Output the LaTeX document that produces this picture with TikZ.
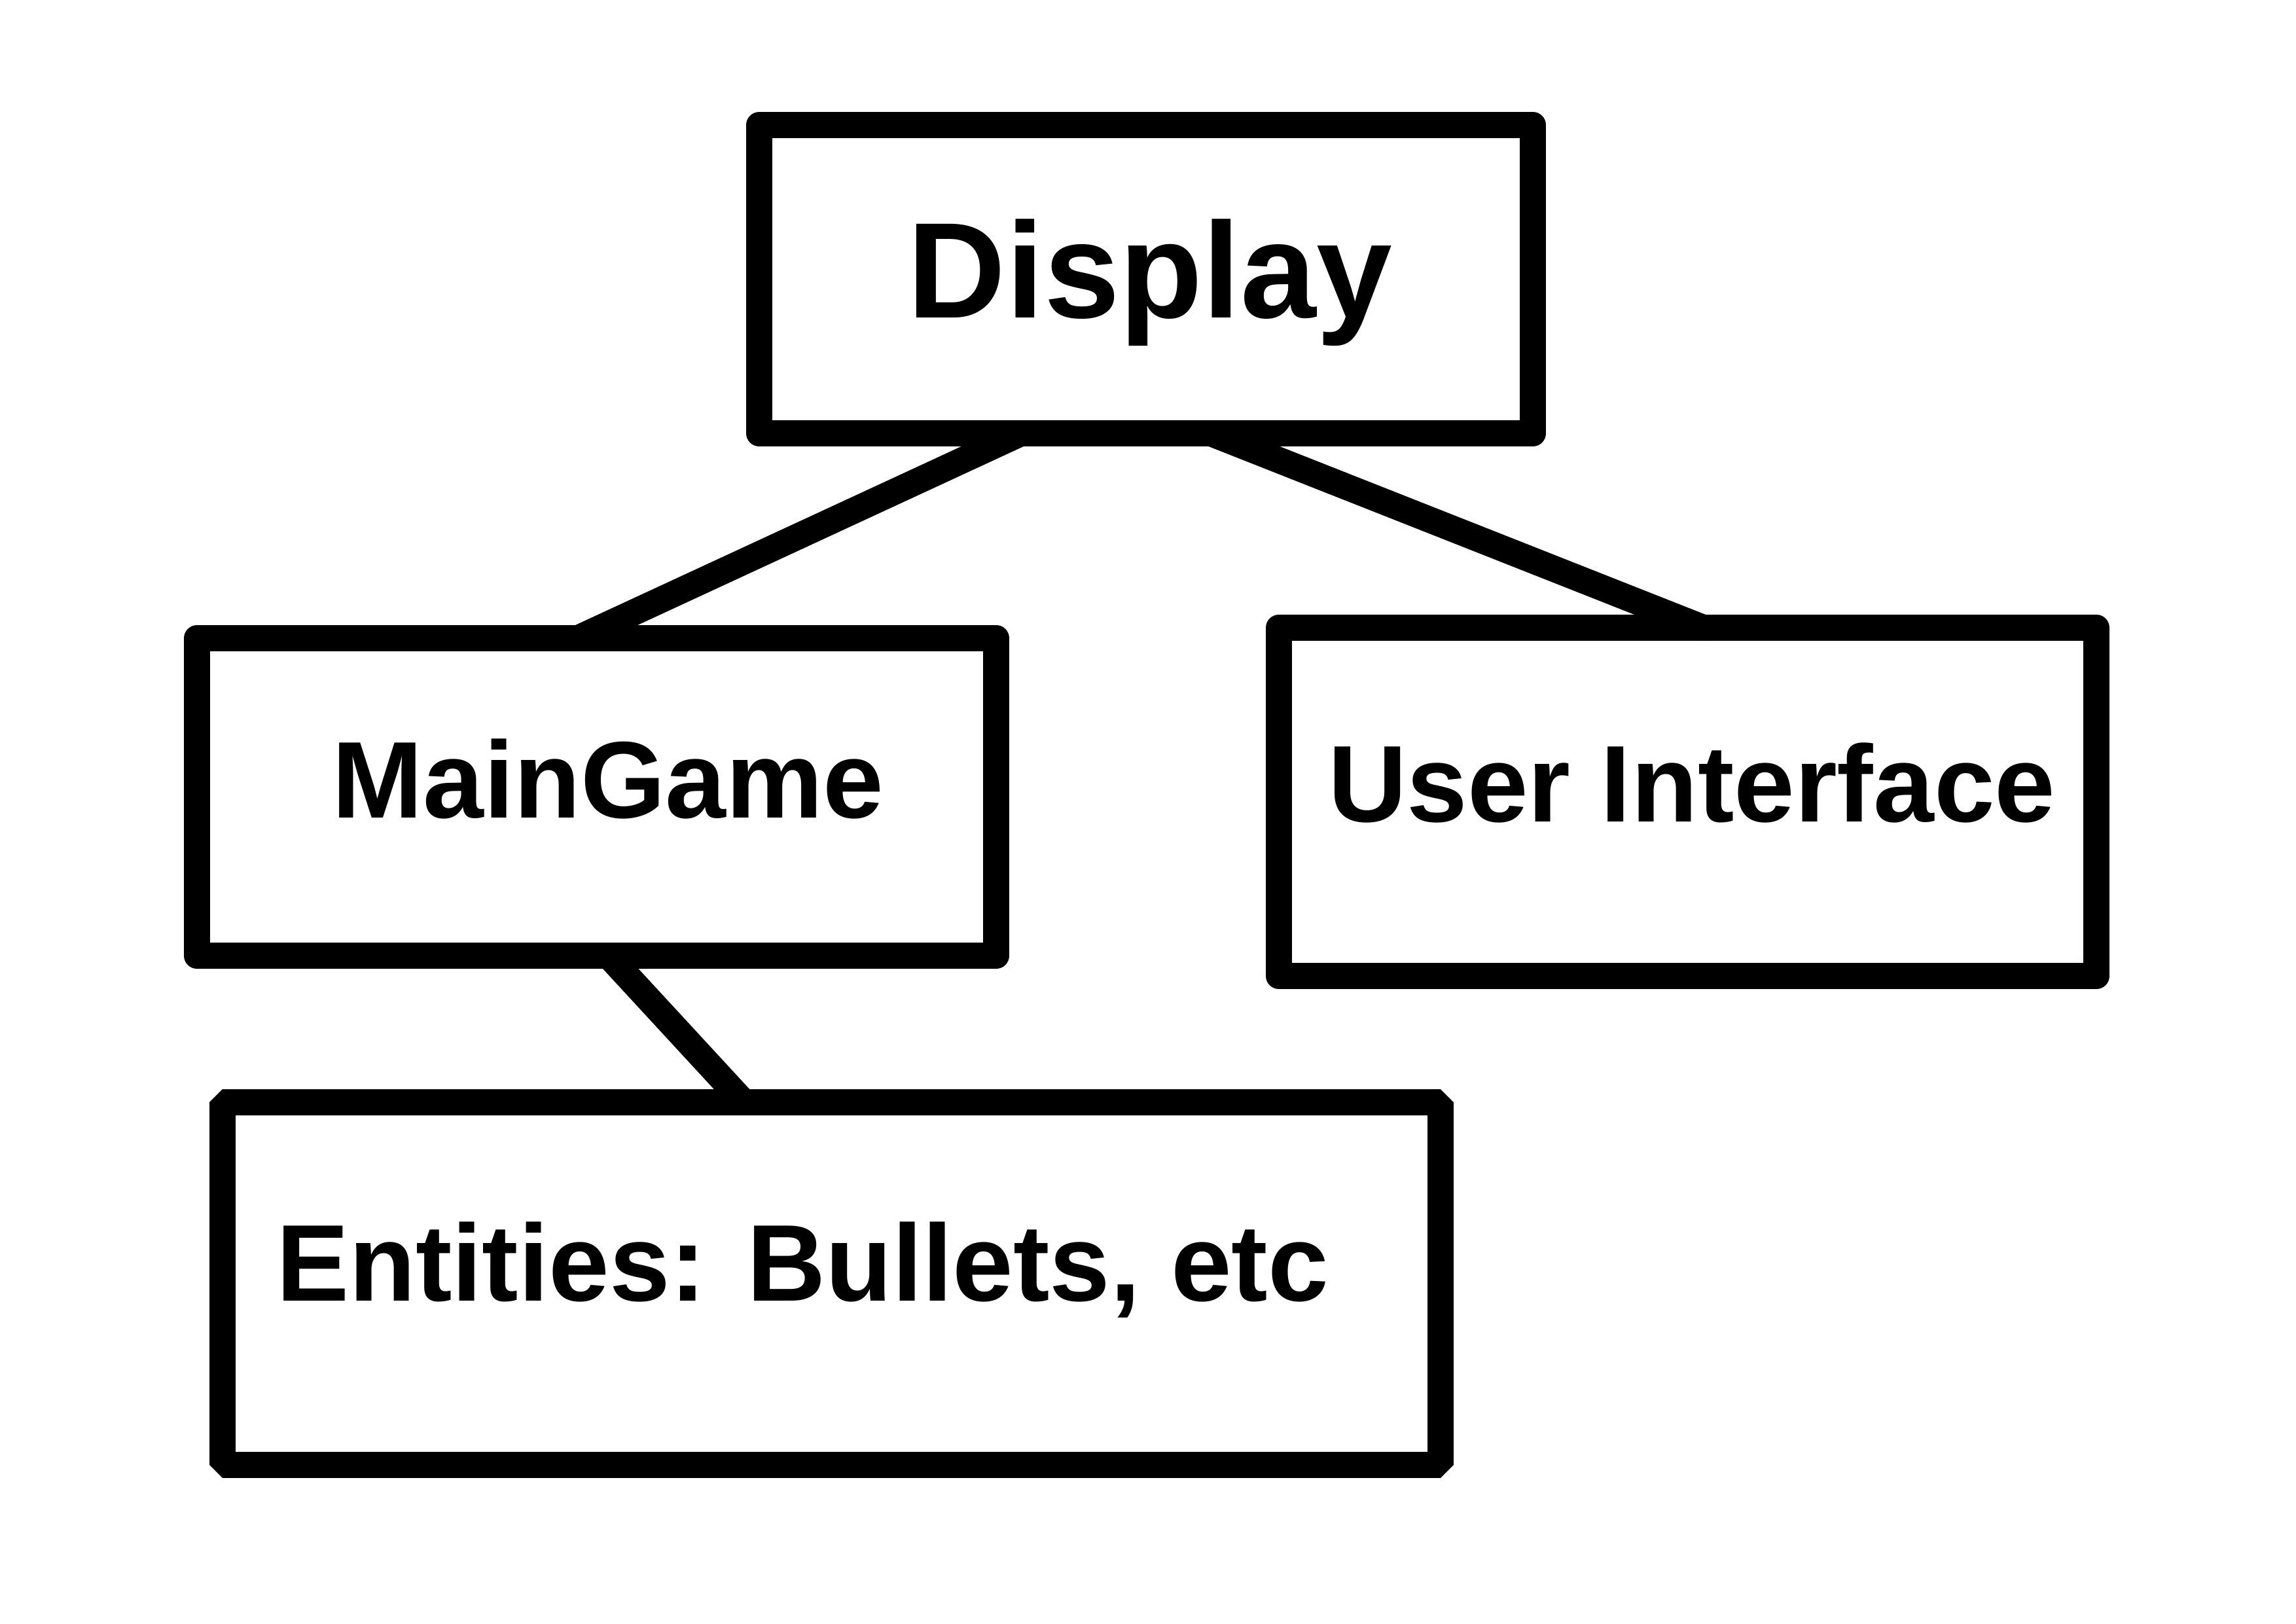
\documentclass[tikz,border=0pt]{standalone}
\usepackage{fontspec}
\setmainfont{Liberation Sans}
\usetikzlibrary{calc}
\begin{document}
\begin{tikzpicture}[x=1cm,y=1cm,
  box/.style={draw=black, line width=0.4cm, outer sep=0pt, inner sep=0pt, line join=round},
  conn/.style={draw=black, line width=0.4cm, line cap=round},
  bigtxt/.style={inner sep=0pt, font=\fontsize{59.2}{70}\selectfont\bfseries},
  txt/.style={inner sep=0pt, font=\fontsize{47.4}{56}\selectfont\bfseries}]
\fill[white] (0,0) rectangle (35.08,-24.80);
\path[use as bounding box] (0,0) rectangle (35.08,-24.80);

\node[box, minimum width=11.82cm, minimum height=4.71cm] (disp) at (17.51,-4.265) {};
\node[box, minimum width=12.21cm, minimum height=4.85cm] (main) at (9.115,-12.175) {};
\node[box, minimum width=12.49cm, minimum height=5.32cm] (ui) at (25.785,-12.25) {};
\node[box, line join=bevel, minimum width=18.61cm, minimum height=5.54cm] (ent) at (12.705,-19.61) {};

\node[bigtxt, anchor=base] (dispt) at (17.57,-4.85) {Display};
\node[txt, anchor=base] (maint) at (9.29,-12.49) {MainGame};
\node[txt, anchor=base] (uit) at (25.85,-12.557) {User Interface};
\node[txt, anchor=base] (entt) at (12.26,-19.875) {Entities: Bullets, etc};

\draw[conn] ($(disp.south west)!0.338!(disp.south east)$) -- ($(main.north west)!0.477!(main.north east)$);
\draw[conn] ($(disp.south west)!0.584!(disp.south east)$) -- ($(ui.north west)!0.519!(ui.north east)$);
\draw[conn] ($(main.south west)!0.515!(main.south east)$) -- ($(ent.north west)!0.428!(ent.north east)$);
\end{tikzpicture}
\end{document}
